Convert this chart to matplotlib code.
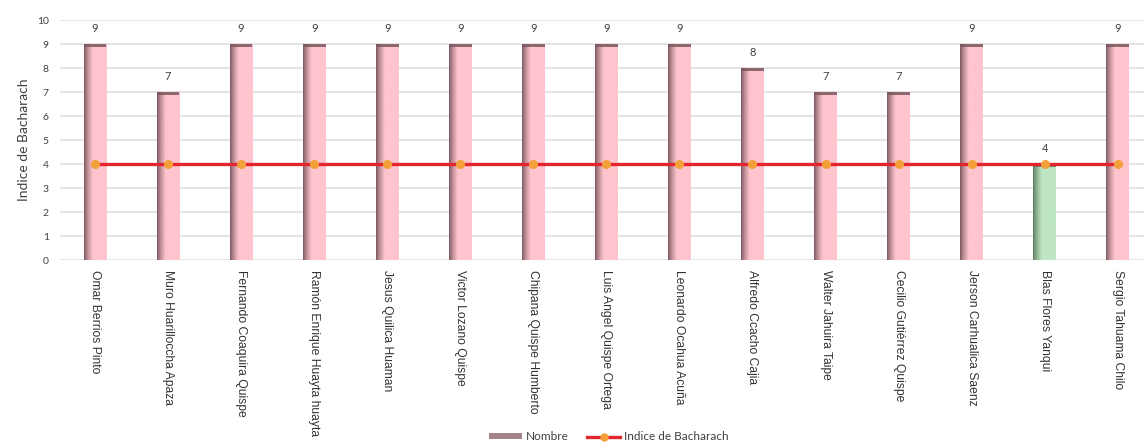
import numpy as np
import matplotlib
matplotlib.use("Agg")
import matplotlib.pyplot as plt
from matplotlib.colors import to_rgb
from matplotlib.patches import Patch
from matplotlib.lines import Line2D

nombres = [
    "Omar Berrios Pinto", "Muro Huarilloccha Apaza", "Fernando Coaquira Quispe",
    "Ramón Enrique Huayta huayta", "Jesus Quilica Huaman", "Victor Lozano Quispe",
    "Chipana Quispe Humberto", "Luis Angel Quispe Ortega", "Leonardo Ocahua Acuña",
    "Alfredo Ccacho Cajia", "Walter Jahuira Taipe", "Cecilio Gutiérrez Quispe",
    "Jerson Carhualica Saenz", "Blas Flores Yanqui", "Sergio Tahuama Chilo",
]
valores = [9, 7, 9, 9, 9, 9, 9, 9, 9, 8, 7, 7, 9, 4, 9]
indice_limite = [4] * len(nombres)
aprobado = [False] * 13 + [True, False]

fig = plt.figure(figsize=(11.44, 4.48), dpi=100)
ax = fig.add_axes([60 / 1144, 188 / 448, 1 - 60 / 1144, 240 / 448])

x = np.arange(len(nombres))
bar_w = 0.31
bars = ax.bar(x, valores, width=bar_w, color="none", zorder=2)


def gradient_fill(patch, light, dark):
    x0, y0 = patch.get_x(), patch.get_y()
    w, h = patch.get_width(), patch.get_height()
    n = 64
    t = np.linspace(0, 1, n)
    mix = np.clip(t / 0.38, 0, 1) ** 0.8
    lc, dc = np.array(to_rgb(light)), np.array(to_rgb(dark))
    row = dc[None, :] * (1 - mix[:, None]) + lc[None, :] * mix[:, None]
    img = row[None, :, :]
    im = ax.imshow(img, extent=(x0, x0 + w, y0, y0 + h), aspect="auto",
                   origin="lower", zorder=2, interpolation="bilinear")
    im.set_clip_path(patch)
    # darker cap along the top of the bar
    ax.bar(x0 + w / 2, 0.13, bottom=y0 + h - 0.13, width=w, color=dark,
           alpha=0.85, zorder=3)


for patch, ok in zip(bars, aprobado):
    if ok:
        gradient_fill(patch, "#bfe6c2", "#5d7a62")
    else:
        gradient_fill(patch, "#ffc4cd", "#7b5760")

for xi, v in zip(x, valores):
    ax.annotate(str(v), (xi, v), xytext=(0, 11), textcoords="offset points",
                ha="center", va="center", fontsize=8, color="#404040",
                family="Lato", zorder=5)

ax.plot(x, indice_limite, color="#e3262d", lw=2.4, zorder=4,
        marker="o", markersize=5.5, markerfacecolor="#f3a03a",
        markeredgecolor="#f3a03a")

ax.set_xlim(-0.48, 14.36)
ax.set_ylim(0, 10)
ax.set_yticks(range(0, 11))
ax.yaxis.grid(True, color="#dcdcdc", lw=1.1, zorder=0)
ax.set_axisbelow(True)
for s in ax.spines.values():
    s.set_visible(False)
ax.tick_params(axis="both", length=0)
ax.tick_params(axis="y", labelsize=7.5, labelcolor="#404040", pad=8)
for lab in ax.get_yticklabels():
    lab.set_family("Lato")
ax.set_xticks(x)
ax.set_xticklabels(nombres, rotation=-90, fontsize=8.7, color="#333333",
                   family="Liberation Sans", va="top", ha="center")
ax.tick_params(axis="x", pad=7)
ax.set_ylabel("Indice de Bacharach", fontsize=10, color="#404040",
              family="Lato", labelpad=5)

handles = [
    Patch(facecolor="#a5848b", edgecolor="none"),
    Line2D([0], [0], color="#e3262d", lw=2.4, marker="o", markersize=5,
           markerfacecolor="#f3a03a", markeredgecolor="#f3a03a"),
]
fig.legend(handles, ["Nombre", "Indice de Bacharach"], loc="center",
           bbox_to_anchor=(0.532, 0.025), ncol=2, frameon=False,
           prop={"family": "Lato", "size": 8.5}, handlelength=2.8,
           handleheight=0.5, columnspacing=1.6, handletextpad=0.3,
           labelcolor="#404040")

fig.savefig("out.png", dpi=100)
